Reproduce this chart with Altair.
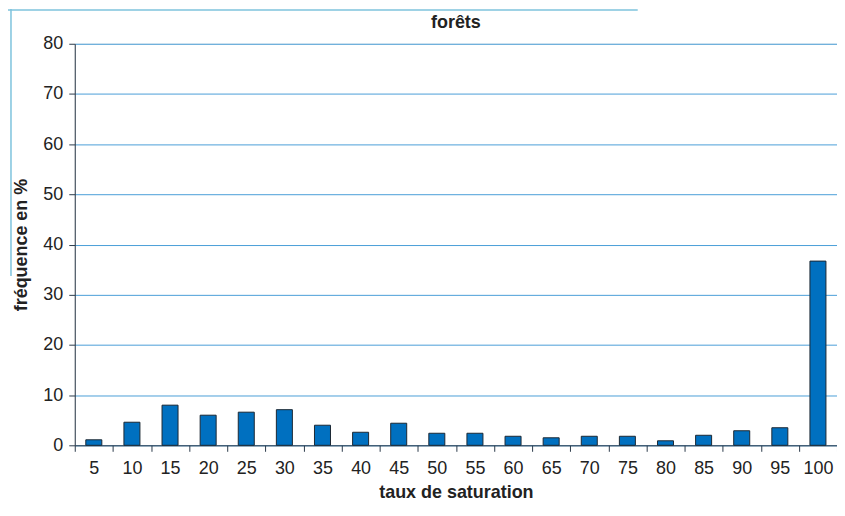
import altair as alt
import pandas as pd

categories = [5, 10, 15, 20, 25, 30, 35, 40, 45, 50, 55, 60, 65, 70, 75, 80, 85, 90, 95, 100]
frequences = [1.1, 4.6, 8.0, 6.0, 6.6, 7.1, 4.0, 2.6, 4.4, 2.4, 2.4, 1.8, 1.5, 1.8, 1.8, 0.9, 2.0, 2.9, 3.5, 36.7]
y_ticks = [0, 10, 20, 30, 40, 50, 60, 70, 80]
chart_title = "forêts"

df = pd.DataFrame({"taux": [str(c) for c in categories], "freq": frequences})

FONT = "Liberation Sans"
GRID = "#4a9fd8"
DARK = "#2b3a4a"
TXT = "#222222"
W, H = 765, 403

bars = alt.Chart(df).mark_bar(
    width=alt.RelativeBandSize(0.42),
    color="#0070c0",
    stroke="#1c2833",
    strokeWidth=1,
).encode(
    x=alt.X(
        "taux:N",
        sort=[str(c) for c in categories],
        scale=alt.Scale(paddingInner=0, paddingOuter=0),
        axis=alt.Axis(
            title="taux de saturation",
            labelAngle=0,
            tickBand="extent",
            labelFont=FONT, labelFontSize=18, labelColor=TXT,
            titleFont=FONT, titleFontSize=18, titleFontWeight="bold", titleColor=TXT,
            titlePadding=6,
            labelPadding=8,
            tickSize=6, tickColor=DARK, domainColor=DARK,
            grid=False,
        ),
    ),
    y=alt.Y(
        "freq:Q",
        scale=alt.Scale(domain=[0, 80], nice=False),
        axis=alt.Axis(
            title="fréquence en %",
            values=y_ticks,
            labelFont=FONT, labelFontSize=18, labelColor=TXT,
            titleFont=FONT, titleFontSize=18, titleFontWeight="bold", titleColor=TXT,
            titlePadding=12,
            labelPadding=6,
            tickSize=6, tickColor=DARK, domainColor=DARK,
            grid=True, gridColor=GRID, gridWidth=1,
        ),
    ),
)

deco = alt.Data(values=[{"a": 1}])
top_line = alt.Chart(deco).mark_rule(color="#7ec3dd", strokeWidth=1.5).encode(
    x=alt.value(-67), x2=alt.value(565), y=alt.value(-34)
)
left_line = alt.Chart(deco).mark_rule(color="#7ec3dd", strokeWidth=1.5).encode(
    x=alt.value(-64), y=alt.value(-35), y2=alt.value(233)
)
title = alt.Chart(alt.Data(values=[{"t": chart_title}])).mark_text(
    font=FONT, fontSize=18, fontWeight="bold", color=TXT, baseline="middle", align="center"
).encode(text="t:N", x=alt.value(W / 2), y=alt.value(-21))

chart = alt.layer(bars, top_line, left_line, title).properties(
    width=W,
    height=H,
    autosize=alt.AutoSizeParams(type="none"),
    padding={"left": 67, "top": 35, "right": 0, "bottom": 56},
).configure_view(stroke=GRID, strokeWidth=1).configure(background="white")

chart.save("out.html", embed_options={"renderer": "svg", "actions": False})
